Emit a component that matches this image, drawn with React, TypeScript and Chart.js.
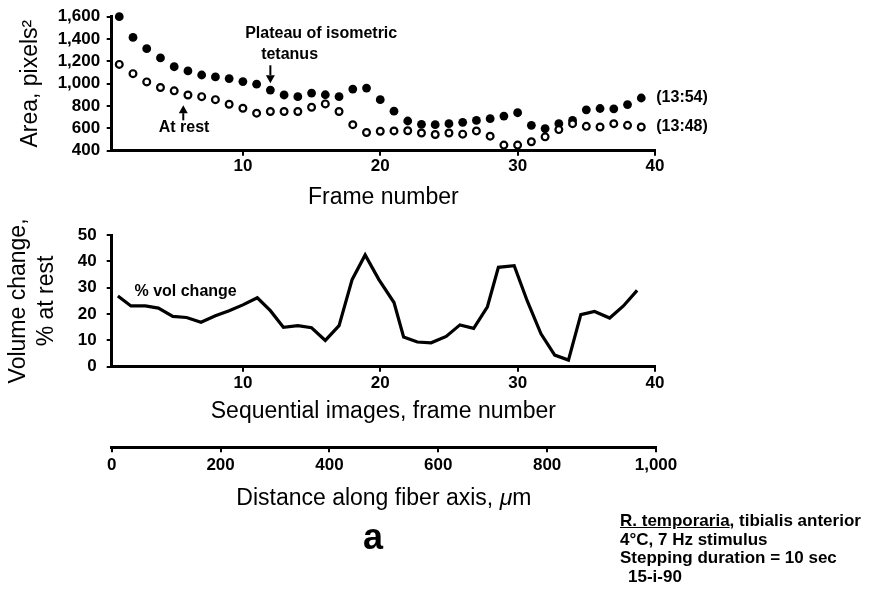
import React, { useEffect, useRef } from "react";
import { Chart, registerables } from "chart.js";

Chart.register(...registerables);

const FONT = "'Liberation Sans', Arial, Helvetica, sans-serif";

// ---- Data ----
const FRAMES = [
  1, 2, 3, 4, 5, 6, 7, 8, 9, 10, 11, 12, 13, 14, 15, 16, 17, 18, 19, 20,
  21, 22, 23, 24, 25, 26, 27, 28, 29, 30, 31, 32, 33, 34, 35, 36, 37, 38, 39,
];
const AREA_1354 = [
  1600, 1414, 1314, 1231, 1152, 1114, 1078, 1061, 1046, 1019, 996, 943, 899,
  884, 916, 901, 884, 952, 961, 857, 754, 666, 636, 633, 642, 654, 671, 687,
  710, 740, 627, 598, 642, 671, 766, 778, 775, 813, 872,
];
const AREA_1348 = [
  1173, 1090, 1016, 966, 936, 899, 884, 857, 816, 780, 736, 751, 751, 751,
  789, 819, 751, 633, 563, 574, 577, 579, 559, 545, 559, 548, 577, 530, 450,
  450, 480, 524, 589, 642, 618, 612, 642, 627, 612,
];
const AREA_TICKS = [400, 600, 800, 1000, 1200, 1400, 1600];
const FRAME_TICKS = [10, 20, 30, 40];

const VOL_X = [
  0.9, 1.85, 2.9, 3.85, 4.9, 5.9, 6.95, 8.0, 9.0, 10.0, 11.05, 12.0, 12.95,
  14.0, 15.0, 16.0, 17.0, 17.95, 18.9, 19.9, 21.0, 21.7, 22.7, 23.7, 24.8,
  25.8, 26.8, 27.8, 28.6, 29.75, 30.7, 31.7, 32.7, 33.7, 34.6, 35.6, 36.7,
  37.7, 38.7,
];
const VOL_CHANGE = [
  26.9, 23.1, 23.1, 22.3, 19.1, 18.7, 16.9, 19.4, 21.3, 23.5, 26.2, 21.3, 15,
  15.6, 14.8, 10, 15.6, 33.1, 42.5, 33.1, 24.4, 11.3, 9.4, 9.1, 11.5, 15.9,
  14.6, 22.8, 37.8, 38.4, 25, 12.5, 4.4, 2.5, 19.8, 21, 18.5, 23.1, 29,
];
const VOL_TICKS = [0, 10, 20, 30, 40, 50];
const DIST_TICKS = [0, 200, 400, 600, 800, 1000];

const FRAME_MIN = 0.45;
const FRAME_MAX = 40;

const fmt = (v: number) => Number(v).toLocaleString("en-US");

function drawArrow(ctx: CanvasRenderingContext2D, x: number, yTail: number, yTip: number) {
  const dir = yTip > yTail ? 1 : -1;
  const head = 8;
  ctx.save();
  ctx.strokeStyle = "#000";
  ctx.fillStyle = "#000";
  ctx.lineWidth = 2;
  ctx.beginPath();
  ctx.moveTo(x, yTail);
  ctx.lineTo(x, yTip - dir * head);
  ctx.stroke();
  ctx.beginPath();
  ctx.moveTo(x, yTip);
  ctx.lineTo(x - 4.5, yTip - dir * head);
  ctx.lineTo(x + 4.5, yTip - dir * head);
  ctx.closePath();
  ctx.fill();
  ctx.restore();
}

const annoTop = {
  id: "annoTop",
  afterDatasetsDraw(chart: any) {
    const { ctx } = chart;
    const x = chart.scales.x;
    const y = chart.scales.y;
    ctx.save();
    ctx.fillStyle = "#000";
    ctx.font = `bold 16px ${FONT}`;
    ctx.textBaseline = "middle";
    ctx.textAlign = "center";
    ctx.fillText("Plateau of isometric", x.getPixelForValue(15.7), y.getPixelForValue(1452));
    ctx.fillText("tetanus", x.getPixelForValue(13.4), y.getPixelForValue(1261));
    drawArrow(ctx, x.getPixelForValue(12), y.getPixelForValue(1165), y.getPixelForValue(1005));
    ctx.fillText("At rest", x.getPixelForValue(5.72), y.getPixelForValue(603));
    drawArrow(ctx, x.getPixelForValue(5.66), y.getPixelForValue(672), y.getPixelForValue(808));
    const last = FRAMES.length - 1;
    ctx.textAlign = "left";
    const xl = x.getPixelForValue(FRAMES[last]) + 15;
    ctx.fillText("(13:54)", xl, y.getPixelForValue(AREA_1354[last]));
    ctx.fillText("(13:48)", xl, y.getPixelForValue(AREA_1348[last]));
    ctx.restore();
  },
};

const annoMid = {
  id: "annoMid",
  afterDatasetsDraw(chart: any) {
    const { ctx } = chart;
    const x = chart.scales.x;
    const y = chart.scales.y;
    ctx.save();
    ctx.fillStyle = "#000";
    ctx.font = `bold 16px ${FONT}`;
    ctx.textBaseline = "middle";
    ctx.textAlign = "center";
    ctx.fillText("% vol change", x.getPixelForValue(5.83), y.getPixelForValue(28.7));
    ctx.restore();
  },
};

const gridOpts = {
  drawOnChartArea: false,
  drawTicks: true,
  tickLength: 5,
  color: "#000",
  lineWidth: 2,
};
const borderOpts = { display: true, color: "#000", width: 3 };
const tickFont = { family: FONT, size: 17, weight: "bold" as const };
const titleFont = { family: FONT, size: 23, lineHeight: 1.2 };

export default function App() {
  const refA = useRef<HTMLCanvasElement>(null);
  const refB = useRef<HTMLCanvasElement>(null);
  const refC = useRef<HTMLCanvasElement>(null);

  useEffect(() => {
    Chart.defaults.font.family = FONT;
    Chart.defaults.color = "#000";

    const chartA = new Chart(refA.current as HTMLCanvasElement, {
      type: "scatter",
      data: {
        datasets: [
          {
            label: "(13:48)",
            data: FRAMES.map((f, i) => ({ x: f, y: AREA_1348[i] })),
            pointRadius: 3.4,
            pointBorderWidth: 2.2,
            pointBackgroundColor: "#fff",
            pointBorderColor: "#000",
            clip: false as any,
          },
          {
            label: "(13:54)",
            data: FRAMES.map((f, i) => ({ x: f, y: AREA_1354[i] })),
            pointRadius: 4.4,
            pointBorderWidth: 0,
            pointBackgroundColor: "#000",
            pointBorderColor: "#000",
            clip: false as any,
          },
        ],
      },
      options: {
        responsive: false,
        animation: false,
        devicePixelRatio: 1,
        layout: { padding: { left: 0, top: 15, right: 215, bottom: 0 } },
        plugins: { legend: { display: false }, tooltip: { enabled: false } },
        scales: {
          x: {
            type: "linear",
            min: FRAME_MIN,
            max: FRAME_MAX,
            afterFit: (s: any) => { s.height = 64.3; },
            afterBuildTicks: (s: any) => { s.ticks = FRAME_TICKS.map((v) => ({ value: v })); },
            grid: gridOpts,
            border: borderOpts,
            ticks: { color: "#000", font: tickFont, padding: 0, maxRotation: 0, autoSkip: false },
            title: { display: true, text: "Frame number", color: "#000", font: titleFont, padding: { top: 0, bottom: 4 } },
          },
          y: {
            type: "linear",
            min: 400,
            max: 1600,
            afterFit: (s: any) => { s.width = 111.7; },
            afterBuildTicks: (s: any) => { s.ticks = AREA_TICKS.map((v) => ({ value: v })); },
            grid: gridOpts,
            border: borderOpts,
            ticks: { color: "#000", font: tickFont, padding: 6.5, autoSkip: false, callback: (v: any) => fmt(v) },
            title: { display: true, text: "Area, pixels²", color: "#000", font: titleFont, padding: { top: 17, bottom: 0 } },
          },
        },
      },
      plugins: [annoTop],
    });

    const chartB = new Chart(refB.current as HTMLCanvasElement, {
      type: "scatter",
      data: {
        datasets: [
          {
            label: "% vol change",
            data: VOL_X.map((f, i) => ({ x: f, y: VOL_CHANGE[i] })),
            showLine: true,
            borderColor: "#000",
            borderWidth: 3.2,
            borderJoinStyle: "miter",
            pointRadius: 0,
            tension: 0,
            clip: false as any,
          },
        ],
      },
      options: {
        responsive: false,
        animation: false,
        devicePixelRatio: 1,
        layout: { padding: { left: 0, top: 18.3, right: 215, bottom: 0 } },
        plugins: { legend: { display: false }, tooltip: { enabled: false } },
        scales: {
          x: {
            type: "linear",
            min: FRAME_MIN,
            max: FRAME_MAX,
            afterFit: (s: any) => { s.height = 63.3; },
            afterBuildTicks: (s: any) => { s.ticks = FRAME_TICKS.map((v) => ({ value: v })); },
            grid: gridOpts,
            border: borderOpts,
            ticks: { color: "#000", font: tickFont, padding: 1, maxRotation: 0, autoSkip: false },
            title: { display: true, text: "Sequential images, frame number", color: "#000", font: titleFont, padding: { top: 0, bottom: 5 } },
          },
          y: {
            type: "linear",
            min: 0,
            max: 50,
            afterFit: (s: any) => { s.width = 111.7; },
            afterBuildTicks: (s: any) => { s.ticks = VOL_TICKS.map((v) => ({ value: v })); },
            grid: gridOpts,
            border: borderOpts,
            ticks: { color: "#000", font: tickFont, padding: 10, autoSkip: false },
            title: {
              display: true,
              text: ["Volume change,", "% at rest"],
              color: "#000",
              font: { family: FONT, size: 23, lineHeight: 1.22 },
              padding: { top: 5, bottom: 0 },
            },
          },
        },
      },
      plugins: [annoMid],
    });

    const chartC = new Chart(refC.current as HTMLCanvasElement, {
      type: "scatter",
      data: { datasets: [] },
      options: {
        responsive: false,
        animation: false,
        devicePixelRatio: 1,
        layout: { padding: { left: 111.7, top: 7, right: 214, bottom: 0 } },
        plugins: { legend: { display: false }, tooltip: { enabled: false } },
        scales: {
          x: {
            type: "linear",
            min: 0,
            max: 1000,
            afterFit: (s: any) => { s.height = 72.7; },
            afterBuildTicks: (s: any) => { s.ticks = DIST_TICKS.map((v) => ({ value: v })); },
            grid: gridOpts,
            border: borderOpts,
            ticks: { color: "#000", font: tickFont, padding: 2.5, maxRotation: 0, autoSkip: false, callback: (v: any) => fmt(v) },
            title: { display: false },
          },
          y: { type: "linear", display: false, min: 0, max: 1 },
        },
      },
    });

    return () => {
      chartA.destroy();
      chartB.destroy();
      chartC.destroy();
    };
  }, []);

  const abs = (top: number, height: number): React.CSSProperties => ({
    position: "absolute",
    left: 0,
    top,
    width: 870,
    height,
    display: "block",
  });

  return (
    <div style={{ position: "absolute", left: 0, top: 0, width: 870, height: 592, background: "#fff", fontFamily: FONT, color: "#000" }}>
      <canvas ref={refA} width={870} height={215} style={abs(0, 215)} />
      <canvas ref={refB} width={870} height={215} style={abs(215, 215)} />
      <canvas ref={refC} width={870} height={90} style={abs(430, 90)} />
      <div
        style={{
          position: "absolute",
          left: 111.7,
          width: 544.3,
          top: 483.5,
          textAlign: "center",
          fontSize: 23,
          lineHeight: "27px",
          whiteSpace: "nowrap",
        }}
      >
        Distance along fiber axis, <i>μ</i>m
      </div>
      <div
        style={{
          position: "absolute",
          left: 353,
          width: 40,
          top: 518.8,
          textAlign: "center",
          fontSize: 36,
          fontWeight: "bold",
          lineHeight: "36px",
        }}
      >
        a
      </div>
      <div
        style={{
          position: "absolute",
          left: 620,
          top: 512,
          fontSize: 17,
          fontWeight: "bold",
          lineHeight: "18.5px",
          whiteSpace: "nowrap",
        }}
      >
        <div>
          <span style={{ textDecoration: "underline" }}>R. temporaria</span>, tibialis anterior
        </div>
        <div>4°C, 7 Hz stimulus</div>
        <div>Stepping duration = 10 sec</div>
        <div style={{ paddingLeft: 8 }}>15-i-90</div>
      </div>
    </div>
  );
}
